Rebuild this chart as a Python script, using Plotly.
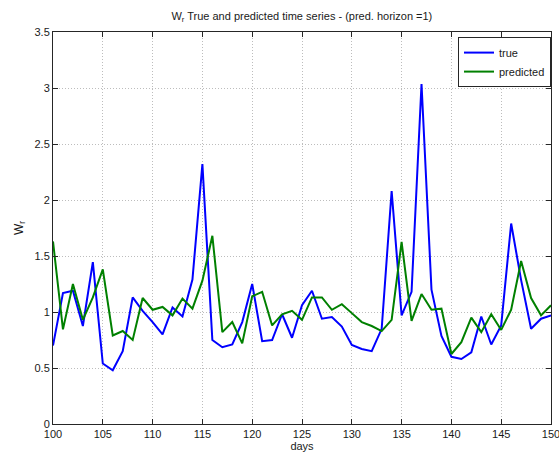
import plotly.graph_objects as go

# Days on the x axis
days = list(range(100, 151))

# Observed W_r values
true_vals = [
    0.70, 1.17, 1.19, 0.875, 1.446, 0.54, 0.48, 0.65, 1.13, 1.01,
    0.91, 0.80, 1.04, 0.96, 1.29, 2.32, 0.75, 0.685, 0.71, 0.91,
    1.25, 0.74, 0.75, 0.98, 0.77, 1.06, 1.19, 0.94, 0.955, 0.87,
    0.705, 0.67, 0.65, 0.85, 2.08, 0.97, 1.18, 3.036, 1.20, 0.786,
    0.60, 0.58, 0.64, 0.96, 0.71, 0.88, 1.79, 1.285, 0.85, 0.94,
    0.97,
]

# One-step-ahead predictions
pred_vals = [
    1.63, 0.845, 1.25, 0.93, 1.13, 1.38, 0.79, 0.83, 0.75, 1.125,
    1.02, 1.045, 0.97, 1.12, 1.03, 1.28, 1.68, 0.82, 0.91, 0.72,
    1.14, 1.18, 0.88, 0.98, 1.01, 0.93, 1.13, 1.13, 1.02, 1.07,
    0.99, 0.91, 0.875, 0.83, 0.93, 1.625, 0.92, 1.16, 1.02, 1.03,
    0.625, 0.73, 0.95, 0.82, 0.98, 0.84, 1.02, 1.455, 1.125, 0.97,
    1.06,
]

font_family = "Liberation Sans, Arial, sans-serif"
axis_color = "#262626"

fig = go.Figure()
fig.add_trace(go.Scatter(x=days, y=true_vals, mode="lines", name="true",
                         line=dict(color="#0000FF", width=2)))
fig.add_trace(go.Scatter(x=days, y=pred_vals, mode="lines", name="predicted",
                         line=dict(color="#008000", width=2)))

axis_common = dict(
    showline=True, linecolor=axis_color, linewidth=1, mirror="ticks",
    ticks="inside", ticklen=5, tickcolor=axis_color,
    showgrid=True, gridcolor="#bdbdbd", griddash="1px,2px", gridwidth=1,
    zeroline=False, tickfont=dict(size=11, color="#1a1a1a", family=font_family),
    ticklabeloverflow="allow", automargin=False,
)

fig.update_xaxes(range=[100, 150], dtick=5, tick0=100,
                 title=dict(text="days", font=dict(size=11, color="#1a1a1a"), standoff=2),
                 **axis_common)
fig.update_yaxes(range=[0, 3.5], dtick=0.5, tick0=0,
                 title=dict(text="W<sub>r</sub>", font=dict(size=12, color="#1a1a1a"), standoff=8),
                 **axis_common)

fig.update_layout(
    width=559, height=457,
    margin=dict(l=53, r=8, t=32, b=33, autoexpand=False),
    paper_bgcolor="white", plot_bgcolor="white",
    font=dict(family=font_family, size=11, color="#1a1a1a"),
    title=dict(text="W<sub>r</sub> True and predicted time series - (pred. horizon =1)",
               x=0.54, xanchor="center", y=0.965, yanchor="middle",
               font=dict(size=11, color="#1a1a1a")),
    legend=dict(x=1.0, xanchor="right", y=0.987, yanchor="top",
                bgcolor="white", bordercolor=axis_color, borderwidth=1,
                font=dict(size=11), tracegroupgap=0, itemwidth=30),
    showlegend=True,
)

fig.write_html("out.html")
